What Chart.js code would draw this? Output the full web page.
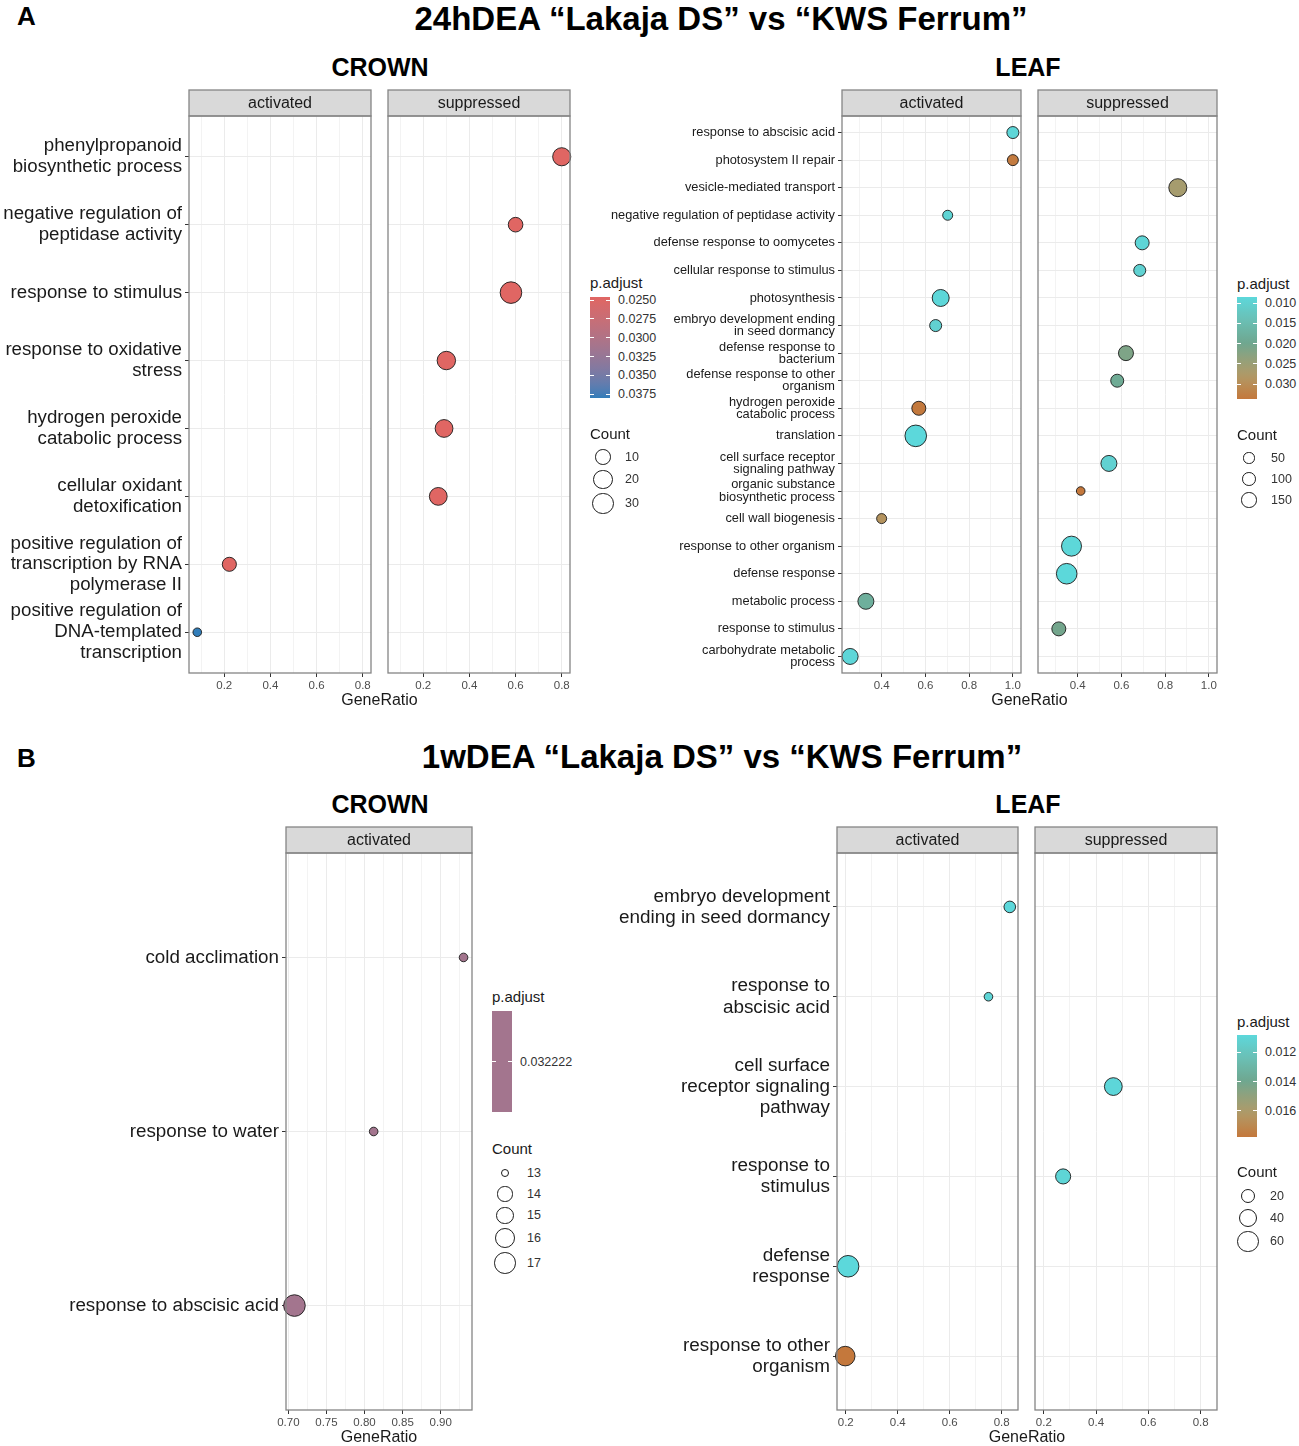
<!DOCTYPE html>
<html>
<head>
<meta charset="utf-8">
<script src="https://cdn.jsdelivr.net/npm/chart.js@4.4.1/dist/chart.umd.min.js"></script>
<style>
body { margin: 0; background: #fff; width: 1299px; height: 1446px; position: relative; overflow: hidden;
       font-family: "Liberation Sans", Arial, sans-serif; }
.t { position: absolute; white-space: nowrap; line-height: 1; }
canvas { position: absolute; }
.bar { position: absolute; width: 20px; }
.tk { position: absolute; height: 1px; width: 4px; background: #fff; }
.key { position: absolute; border: 1px solid #1a1a1a; border-radius: 50%; background: #fff; box-sizing: border-box; }
</style>
</head>
<body>
<script>
// ---------- data: A, crown ----------
const crownA_terms = [
  "phenylpropanoid\nbiosynthetic process",
  "negative regulation of\npeptidase activity",
  "response to stimulus",
  "response to oxidative\nstress",
  "hydrogen peroxide\ncatabolic process",
  "cellular oxidant\ndetoxification",
  "positive regulation of\ntranscription by RNA\npolymerase II",
  "positive regulation of\nDNA-templated\ntranscription"
];
// rows are indexes into crownA_terms
const crownA_actRow = [6, 7];
const crownA_actRatio = [0.222, 0.083];
const crownA_actCount = [7, 2];
const crownA_actPadj = [0.0246, 0.0380];
const crownA_supRow = [0, 1, 2, 3, 4, 5];
const crownA_supRatio = [0.800, 0.600, 0.580, 0.300, 0.290, 0.265];
const crownA_supCount = [17, 8, 30, 18, 16, 16];
const crownA_supPadj = [0.0246, 0.0246, 0.0246, 0.0246, 0.0246, 0.0246];
const crownA_xMajor = [0.2, 0.4, 0.6, 0.8];
const crownA_xMinor = [0.1, 0.3, 0.5, 0.7];
const crownA_padjBreaks = [0.0250, 0.0275, 0.0300, 0.0325, 0.0350, 0.0375];
const crownA_countBreaks = [10, 20, 30];

// ---------- data: A, leaf ----------
const leafA_terms = [
  "response to abscisic acid",
  "photosystem II repair",
  "vesicle-mediated transport",
  "negative regulation of peptidase activity",
  "defense response to oomycetes",
  "cellular response to stimulus",
  "photosynthesis",
  "embryo development ending\nin seed dormancy",
  "defense response to\nbacterium",
  "defense response to other\norganism",
  "hydrogen peroxide\ncatabolic process",
  "translation",
  "cell surface receptor\nsignaling pathway",
  "organic substance\nbiosynthetic process",
  "cell wall biogenesis",
  "response to other organism",
  "defense response",
  "metabolic process",
  "response to stimulus",
  "carbohydrate metabolic\nprocess"
];
const leafA_actRow = [0, 1, 3, 6, 7, 10, 11, 14, 17, 19];
const leafA_actRatio = [1.000, 1.000, 0.702, 0.670, 0.647, 0.570, 0.556, 0.400, 0.328, 0.256];
const leafA_actCount = [63, 48, 38, 214, 63, 108, 468, 38, 174, 174];
const leafA_actPadj = [0.0090, 0.0332, 0.0095, 0.0088, 0.0100, 0.0335, 0.0085, 0.0290, 0.0180, 0.0090];
const leafA_supRow = [2, 4, 5, 8, 9, 12, 13, 15, 16, 18];
const leafA_supRatio = [0.858, 0.695, 0.684, 0.621, 0.581, 0.543, 0.414, 0.372, 0.350, 0.314];
const leafA_supCount = [260, 108, 63, 138, 83, 174, 33, 368, 404, 108];
const leafA_supPadj = [0.0265, 0.0092, 0.0098, 0.0215, 0.0190, 0.0100, 0.0337, 0.0088, 0.0086, 0.0205];
const leafA_xMajor = [0.4, 0.6, 0.8, 1.0];
const leafA_xMinor = [0.3, 0.5, 0.7, 0.9];
const leafA_padjBreaks = [0.010, 0.015, 0.020, 0.025, 0.030];
const leafA_countBreaks = [50, 100, 150];

// ---------- data: B, crown ----------
const crownB_terms = ["cold acclimation", "response to water", "response to abscisic acid"];
const crownB_actRow = [0, 1, 2];
const crownB_actRatio = [0.930, 0.812, 0.708];
const crownB_actCount = [13, 13, 17];
const crownB_actPadj = [0.032222, 0.032222, 0.032222];
const crownB_xMajor = [0.70, 0.75, 0.80, 0.85, 0.90];
const crownB_xMinor = [0.725, 0.775, 0.825, 0.875, 0.925];
const crownB_padjBreaks = [0.032222];
const crownB_countBreaks = [13, 14, 15, 16, 17];

// ---------- data: B, leaf ----------
const leafB_terms = [
  "embryo development\nending in seed dormancy",
  "response to\nabscisic acid",
  "cell surface\nreceptor signaling\npathway",
  "response to\nstimulus",
  "defense\nresponse",
  "response to other\norganism"
];
const leafB_actRow = [0, 1, 4, 5];
const leafB_actRatio = [0.831, 0.749, 0.209, 0.198];
const leafB_actCount = [11, 8, 64, 48];
const leafB_actPadj = [0.0108, 0.0110, 0.0108, 0.0178];
const leafB_supRow = [2, 3];
const leafB_supRatio = [0.466, 0.274];
const leafB_supCount = [36, 22];
const leafB_supPadj = [0.0109, 0.0110];
const leafB_xMajor = [0.2, 0.4, 0.6, 0.8];
const leafB_xMinor = [0.3, 0.5, 0.7];
const leafB_padjBreaks = [0.012, 0.014, 0.016];
const leafB_countBreaks = [20, 40, 60];

const FONT = '"Liberation Sans", Arial, sans-serif';
Chart.defaults.font.family = FONT;
const R_MIN = 4.3, R_MAX = 10.8;
const STRIP_H = 26;
const PAD_TOP = 46;

// ---------- colour helpers (ggplot blends in Lab) ----------
function lin(c) { c /= 255; return c <= 0.04045 ? c / 12.92 : Math.pow((c + 0.055) / 1.055, 2.4); }
function unlin(c) { c = c <= 0.0031308 ? 12.92 * c : 1.055 * Math.pow(c, 1 / 2.4) - 0.055; return Math.round(Math.max(0, Math.min(1, c)) * 255); }
function toLab(hex) {
  const R = lin(parseInt(hex.slice(1, 3), 16)), G = lin(parseInt(hex.slice(3, 5), 16)), B = lin(parseInt(hex.slice(5, 7), 16));
  const X = (0.4124 * R + 0.3576 * G + 0.1805 * B) / 0.95047;
  const Y = 0.2126 * R + 0.7152 * G + 0.0722 * B;
  const Z = (0.0193 * R + 0.1192 * G + 0.9505 * B) / 1.08883;
  const f = t => t > 0.008856 ? Math.cbrt(t) : 7.787 * t + 16 / 116;
  return [116 * f(Y) - 16, 500 * (f(X) - f(Y)), 200 * (f(Y) - f(Z))];
}
function fromLab([L, a, b]) {
  const fy = (L + 16) / 116, fx = fy + a / 500, fz = fy - b / 200;
  const fi = t => t * t * t > 0.008856 ? t * t * t : (t - 16 / 116) / 7.787;
  const X = 0.95047 * fi(fx), Y = fi(fy), Z = 1.08883 * fi(fz);
  const r = unlin(3.2406 * X - 1.5372 * Y - 0.4986 * Z);
  const g = unlin(-0.9689 * X + 1.8758 * Y + 0.0415 * Z);
  const bb = unlin(0.0557 * X - 0.2040 * Y + 1.0570 * Z);
  return `rgb(${r},${g},${bb})`;
}
function palette(colors, stops) {
  const labs = colors.map(toLab);
  return t => {
    t = Math.max(0, Math.min(1, t));
    let i = 0;
    while (i < stops.length - 2 && t > stops[i + 1]) i++;
    const u = (t - stops[i]) / (stops[i + 1] - stops[i]);
    return fromLab(labs[i].map((v, k) => v + (labs[i + 1][k] - v) * u));
  };
}
const crownPal = palette(["#E06663", "#327EBA"], [0, 1]);
const leafPal = palette(["#5CD8DB", "#6FA68E", "#AE9A68", "#C4783C"], [0, 0.46, 0.76, 1]);

function colorScale(pal, vals) {
  const lo = Math.min(...vals), hi = Math.max(...vals);
  return { lo, hi, col: p => pal(hi === lo ? 0.5 : (p - lo) / (hi - lo)) };
}
function sizeScale(vals) {
  const lo = Math.min(...vals), hi = Math.max(...vals);
  return c => hi === lo ? (R_MIN + R_MAX) / 2 : R_MIN + (R_MAX - R_MIN) * Math.sqrt(Math.max(0, (c - lo) / (hi - lo)));
}
function xRange(vals) {
  const lo = Math.min(...vals), hi = Math.max(...vals), e = (hi - lo) * 0.05;
  return [lo - e, hi + e];
}

// ---------- html text ----------
function text(str, x, y, o = {}) {
  const d = document.createElement("div");
  d.className = "t";
  d.textContent = str;
  d.style.left = x + "px";
  d.style.top = y + "px";
  d.style.fontSize = (o.size || 15) + "px";
  d.style.fontWeight = o.weight || 400;
  d.style.color = o.color || "#1A1A1A";
  const tx = o.align === "center" ? "-50%" : o.align === "right" ? "-100%" : "0";
  d.style.transform = `translate(${tx},-50%)`;
  document.body.appendChild(d);
}

// ---------- strip + border ----------
const facetPlugin = {
  id: "facet",
  afterDraw(chart, args, opts) {
    const { ctx, chartArea: a } = chart;
    ctx.save();
    ctx.fillStyle = "#D9D9D9";
    ctx.fillRect(a.left, a.top - STRIP_H, a.right - a.left, STRIP_H);
    ctx.strokeStyle = "#858585";
    ctx.lineWidth = 1.3;
    ctx.strokeRect(a.left, a.top - STRIP_H, a.right - a.left, STRIP_H);
    ctx.strokeRect(a.left, a.top, a.right - a.left, a.bottom - a.top);
    ctx.fillStyle = "#1A1A1A";
    ctx.font = "16px " + FONT;
    ctx.textAlign = "center";
    ctx.textBaseline = "middle";
    ctx.fillText(opts.label, (a.left + a.right) / 2, a.top - STRIP_H / 2 + 1);
    ctx.restore();
  }
};

function panel(cfg) {
  const a = cfg.area;
  const padL = cfg.showY ? 0 : 12;
  const left = cfg.showY ? cfg.canvasLeft : a.l - padL;
  const yw = cfg.showY ? a.l - left : 0;
  const top = a.t - PAD_TOP;
  const w = a.r + 12 - left, h = a.b + 26 - top;
  const cv = document.createElement("canvas");
  cv.width = w; cv.height = h;
  cv.style.left = left + "px"; cv.style.top = top + "px";
  cv.style.width = w + "px"; cv.style.height = h + "px";
  document.body.appendChild(cv);

  const pts = cfg.rows.map((row, i) => ({ x: cfg.ratio[i], y: row, r: cfg.size(cfg.count[i]) }));
  const fills = cfg.padj.map(p => cfg.color(p));
  const majors = new Set(cfg.xMajor);
  const xt = cfg.xMajor.concat(cfg.xMinor).filter(v => v > cfg.xr[0] && v < cfg.xr[1]).sort((p, q) => p - q);
  const cats = cfg.cats;

  new Chart(cv, {
    type: "bubble",
    data: { datasets: [{ data: pts, backgroundColor: fills, borderColor: "#1A1A1A", borderWidth: 0.9, clip: false }] },
    options: {
      responsive: false, animation: false, events: [],
      layout: { padding: { left: padL, right: 12, top: PAD_TOP, bottom: 0 } },
      plugins: { legend: { display: false }, tooltip: { enabled: false }, facet: { label: cfg.strip } },
      scales: {
        x: {
          type: "linear", min: cfg.xr[0], max: cfg.xr[1],
          afterBuildTicks: s => { s.ticks = xt.map(v => ({ value: v })); },
          afterFit: s => { s.height = 26; },
          ticks: {
            autoSkip: false, maxRotation: 0, minRotation: 0, padding: 2, color: "#4D4D4D",
            font: { size: 11.5 },
            callback: v => majors.has(v) ? v.toFixed(cfg.dec) : ""
          },
          grid: {
            color: c => majors.has(c.tick && c.tick.value) ? "#EBEBEB" : "#F3F3F3",
            lineWidth: 1, tickLength: 4,
            tickColor: c => majors.has(c.tick && c.tick.value) ? "#333333" : "rgba(0,0,0,0)"
          },
          border: { display: false }
        },
        y: {
          type: "linear", reverse: true, min: -0.6, max: cats.length - 0.4,
          afterBuildTicks: s => { s.ticks = cats.map((c, i) => ({ value: i })); },
          afterFit: s => { s.width = yw; },
          ticks: {
            display: cfg.showY, autoSkip: false, padding: 3, color: "#1A1A1A",
            font: { size: cfg.labelSize || 12, lineHeight: cfg.lineHeight || 1.12 },
            callback: v => cats[v] ? cats[v].split("\n") : ""
          },
          grid: { color: "#EBEBEB", lineWidth: 1, drawTicks: cfg.showY, tickLength: 4, tickColor: "#333333" },
          border: { display: false }
        }
      }
    },
    plugins: [facetPlugin]
  });
}

function legend(cfg) {
  text("p.adjust", cfg.x, cfg.titleY, { size: 15 });
  const bar = document.createElement("div");
  bar.className = "bar";
  const stops = [];
  for (let i = 0; i <= 20; i++) stops.push(cfg.scale.col(cfg.scale.lo + (cfg.scale.hi - cfg.scale.lo) * i / 20) + " " + (i * 5) + "%");
  bar.style.background = `linear-gradient(to bottom, ${stops.join(",")})`;
  bar.style.left = cfg.x + "px"; bar.style.top = cfg.barTop + "px"; bar.style.height = cfg.barH + "px";
  document.body.appendChild(bar);
  cfg.padjBreaks.forEach(p => {
    const t = cfg.scale.hi === cfg.scale.lo ? 0.5 : (p - cfg.scale.lo) / (cfg.scale.hi - cfg.scale.lo);
    const y = cfg.barTop + t * cfg.barH;
    [0, 16].forEach(dx => {
      const k = document.createElement("div");
      k.className = "tk";
      k.style.left = (cfg.x + dx) + "px"; k.style.top = (y - 0.5) + "px";
      document.body.appendChild(k);
    });
    text(p.toFixed(cfg.padjDec), cfg.x + 28, y, { size: 12.5, color: "#333333" });
  });
  text("Count", cfg.x, cfg.countTitleY, { size: 15 });
  let y = cfg.countY0, prevH = null;
  cfg.countBreaks.forEach(c => {
    const r = cfg.size(c);
    const hk = Math.max(21, 2 * r + 4);
    if (prevH !== null) y += (prevH + hk) / 2;
    prevH = hk;
    const k = document.createElement("div");
    k.className = "key";
    k.style.left = (cfg.keyX - r) + "px"; k.style.top = (y - r) + "px";
    k.style.width = 2 * r + "px"; k.style.height = 2 * r + "px";
    document.body.appendChild(k);
    text(String(c), cfg.keyX + 22, y, { size: 12.5, color: "#333333" });
  });
}

function group(g) {
  const allRatio = g.facets.flatMap(f => f.ratio);
  const xr = xRange(allRatio);
  const size = sizeScale(g.facets.flatMap(f => f.count));
  const scale = colorScale(g.pal, g.facets.flatMap(f => f.padj));
  g.facets.forEach((f, i) => panel(Object.assign({
    cats: g.cats, xr, size, color: scale.col, xMajor: g.xMajor, xMinor: g.xMinor, dec: g.dec,
    showY: i === 0, canvasLeft: g.canvasLeft, labelSize: g.labelSize, lineHeight: g.lineHeight
  }, f)));
  const a0 = g.facets[0].area, a1 = g.facets[g.facets.length - 1].area;
  text("GeneRatio", (a0.l + a1.r) / 2, a0.b + 27, { size: 16, align: "center" });
  legend(Object.assign({ scale, size }, g.legend));
}

// ---------- titles ----------
text("A", 17, 16, { size: 26, weight: 700, color: "#000" });
text("24hDEA \u201CLakaja DS\u201D vs \u201CKWS Ferrum\u201D", 721, 18, { size: 33, weight: 700, align: "center", color: "#000" });
text("CROWN", 380, 67, { size: 25, weight: 700, align: "center", color: "#000" });
text("LEAF", 1028, 67, { size: 25, weight: 700, align: "center", color: "#000" });
text("B", 17, 758, { size: 26, weight: 700, color: "#000" });
text("1wDEA \u201CLakaja DS\u201D vs \u201CKWS Ferrum\u201D", 722, 756, { size: 33, weight: 700, align: "center", color: "#000" });
text("CROWN", 380, 804, { size: 25, weight: 700, align: "center", color: "#000" });
text("LEAF", 1028, 804, { size: 25, weight: 700, align: "center", color: "#000" });

// ---------- panels ----------
group({
  cats: crownA_terms, pal: crownPal, xMajor: crownA_xMajor, xMinor: crownA_xMinor, dec: 1,
  canvasLeft: 0, labelSize: 18.7, lineHeight: 1.12,
  facets: [
    { strip: "activated", area: { l: 189, r: 371, t: 116, b: 673 }, rows: crownA_actRow, ratio: crownA_actRatio, count: crownA_actCount, padj: crownA_actPadj },
    { strip: "suppressed", area: { l: 388, r: 570, t: 116, b: 673 }, rows: crownA_supRow, ratio: crownA_supRatio, count: crownA_supCount, padj: crownA_supPadj }
  ],
  legend: { x: 590, titleY: 282, barTop: 297, barH: 101, padjBreaks: crownA_padjBreaks, padjDec: 4,
            countTitleY: 433, countY0: 457, keyX: 603, countBreaks: crownA_countBreaks }
});

group({
  cats: leafA_terms, pal: leafPal, xMajor: leafA_xMajor, xMinor: leafA_xMinor, dec: 1,
  canvasLeft: 596, labelSize: 12.8, lineHeight: 0.95,
  facets: [
    { strip: "activated", area: { l: 842, r: 1021, t: 116, b: 673 }, rows: leafA_actRow, ratio: leafA_actRatio, count: leafA_actCount, padj: leafA_actPadj },
    { strip: "suppressed", area: { l: 1038, r: 1217, t: 116, b: 673 }, rows: leafA_supRow, ratio: leafA_supRatio, count: leafA_supCount, padj: leafA_supPadj }
  ],
  legend: { x: 1237, titleY: 283, barTop: 297, barH: 102, padjBreaks: leafA_padjBreaks, padjDec: 3,
            countTitleY: 434, countY0: 458, keyX: 1249, countBreaks: leafA_countBreaks }
});

group({
  cats: crownB_terms, pal: crownPal, xMajor: crownB_xMajor, xMinor: crownB_xMinor, dec: 2,
  canvasLeft: 40, labelSize: 18.8, lineHeight: 1.12,
  facets: [
    { strip: "activated", area: { l: 286, r: 472, t: 853, b: 1410 }, rows: crownB_actRow, ratio: crownB_actRatio, count: crownB_actCount, padj: crownB_actPadj }
  ],
  legend: { x: 492, titleY: 996, barTop: 1011, barH: 101, padjBreaks: crownB_padjBreaks, padjDec: 6,
            countTitleY: 1148, countY0: 1173, keyX: 505, countBreaks: crownB_countBreaks }
});

group({
  cats: leafB_terms, pal: leafPal, xMajor: leafB_xMajor, xMinor: leafB_xMinor, dec: 1,
  canvasLeft: 596, labelSize: 18.9, lineHeight: 1.12,
  facets: [
    { strip: "activated", area: { l: 837, r: 1018, t: 853, b: 1410 }, rows: leafB_actRow, ratio: leafB_actRatio, count: leafB_actCount, padj: leafB_actPadj },
    { strip: "suppressed", area: { l: 1035, r: 1217, t: 853, b: 1410 }, rows: leafB_supRow, ratio: leafB_supRatio, count: leafB_supCount, padj: leafB_supPadj }
  ],
  legend: { x: 1237, titleY: 1021, barTop: 1035, barH: 102, padjBreaks: leafB_padjBreaks, padjDec: 3,
            countTitleY: 1171, countY0: 1196, keyX: 1248, countBreaks: leafB_countBreaks }
});
</script>
</body>
</html>
